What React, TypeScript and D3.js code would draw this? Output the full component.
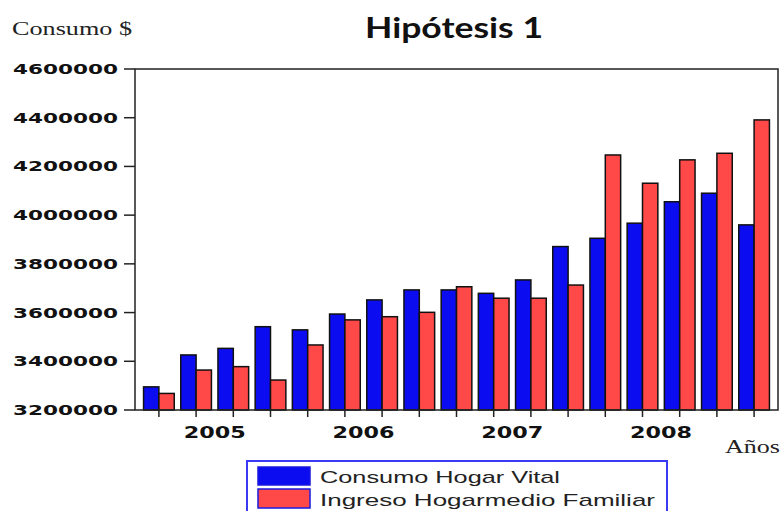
import React from "react";
import * as d3 from "d3";

const quarters = [
  "2005Q1", "2005Q2", "2005Q3", "2005Q4",
  "2006Q1", "2006Q2", "2006Q3", "2006Q4",
  "2007Q1", "2007Q2", "2007Q3", "2007Q4",
  "2008Q1", "2008Q2", "2008Q3", "2008Q4",
  "2009Q1",
];
const consumo = [
  3295000, 3426000, 3453000, 3542000, 3529000, 3594000, 3652000, 3693000,
  3693000, 3679000, 3734000, 3871000, 3905000, 3967000, 4055000, 4090000,
  3960000,
];
const ingreso = [
  3268000, 3364000, 3378000, 3323000, 3467000, 3570000, 3583000, 3601000,
  3706000, 3659000, 3659000, 3713000, 4247000, 4131000, 4227000, 4254000,
  4391000,
];
const yTicks = [3200000, 3400000, 3600000, 3800000, 4000000, 4200000, 4400000, 4600000];
const years = ["2005", "2006", "2007", "2008"];
const seriesNames = ["Consumo Hogar Vital", "Ingreso Hogarmedio Familiar"];
const seriesColors = ["#0c0cf0", "#ff4848"];

export default function App() {
  const width = 782;
  const height = 511;
  const left = 135, right = 778, top = 69, bottom = 410;

  const x = d3.scaleBand<string>()
    .domain(quarters)
    .range([left, right])
    .paddingInner(0.175)
    .paddingOuter(0.23);
  const xs = d3.scaleBand<number>()
    .domain([0, 1])
    .range([0, x.bandwidth()]);
  const y = d3.scaleLinear().domain([3200000, 4600000]).range([bottom, top]);

  const series = [consumo, ingreso];

  return (
    <svg width={width} height={height} style={{ position: "absolute", left: 0, top: 0 }}>
      <rect width={width} height={height} fill="#fff" />

      <text x={12} y={35} fontFamily="Liberation Serif" fontSize={18} textLength={120} lengthAdjust="spacingAndGlyphs" fill="#222">
        Consumo $
      </text>
      <text x={365} y={38} fontFamily="Lato" fontWeight="bold" fontSize={29} textLength={178} lengthAdjust="spacingAndGlyphs" fill="#111">
        Hipótesis 1
      </text>

      {/* bars */}
      {quarters.map((q, i) => (
        <g key={q} transform={`translate(${x(q)},0)`}>
          {series.map((s, k) => (
            <rect
              key={k}
              x={xs(k)}
              y={y(s[i])}
              width={xs.bandwidth()}
              height={bottom - y(s[i])}
              fill={seriesColors[k]}
              stroke="#111"
              strokeWidth={1.5}
            />
          ))}
        </g>
      ))}

      {/* frame */}
      <rect x={left} y={top} width={right - left} height={bottom - top} fill="none" stroke="#222" strokeWidth={1.5} />

      {/* y axis */}
      {yTicks.map((t) => (
        <g key={t}>
          <line x1={124} x2={left} y1={y(t)} y2={y(t)} stroke="#222" strokeWidth={1.5} />
          <text x={13} y={y(t) + 5} fontFamily="DejaVu Sans" fontWeight="bold" fontSize={14} textLength={105} lengthAdjust="spacingAndGlyphs" fill="#111">
            {String(t)}
          </text>
        </g>
      ))}

      {/* x axis ticks */}
      {quarters.map((q) => (
        <line key={q} x1={(x(q) ?? 0) + x.bandwidth() / 2} x2={(x(q) ?? 0) + x.bandwidth() / 2} y1={bottom} y2={bottom + 7} stroke="#222" strokeWidth={1.5} />
      ))}
      {years.map((yr) => {
        const c = ((x(yr + "Q2") ?? 0) + (x(yr + "Q3") ?? 0)) / 2 + x.bandwidth() / 2;
        return (
          <text key={yr} x={c - 31} y={438} fontFamily="DejaVu Sans" fontWeight="bold" fontSize={15} textLength={62} lengthAdjust="spacingAndGlyphs" fill="#111">
            {yr}
          </text>
        );
      })}
      <text x={725} y={453} fontFamily="Liberation Serif" fontSize={18} textLength={55} lengthAdjust="spacingAndGlyphs" fill="#222">
        Años
      </text>

      {/* legend */}
      <rect x={247} y={461} width={420} height={60} fill="#fff" stroke="#3a3af5" strokeWidth={2} />
      {seriesNames.map((n, k) => (
        <g key={n}>
          <rect x={258} y={467 + k * 22} width={52} height={k === 0 ? 18 : 19} fill={seriesColors[k]} stroke="#1a1ae0" strokeWidth={1.5} />
          <text x={320} y={483 + k * 23} fontFamily="Liberation Sans" fontSize={17} textLength={k === 0 ? 240 : 335} lengthAdjust="spacingAndGlyphs" fill="#222">
            {n}
          </text>
        </g>
      ))}
    </svg>
  );
}
